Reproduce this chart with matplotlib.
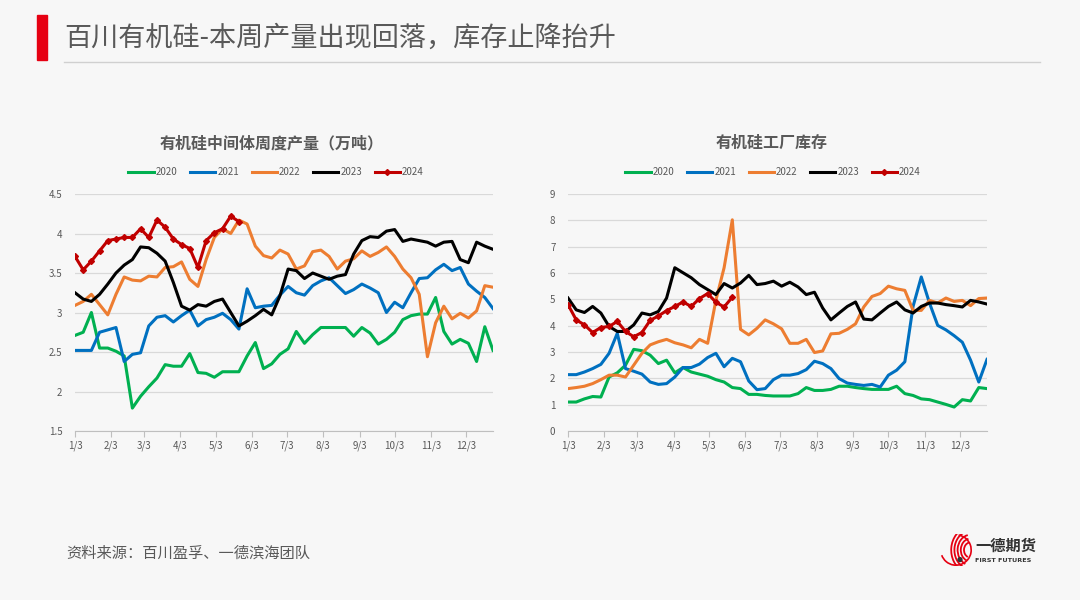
import matplotlib
matplotlib.use("Agg")
import matplotlib.pyplot as plt
from matplotlib.patches import Rectangle, Arc, Circle
import pandas as pd

plt.rcParams['font.family'] = ['Noto Sans CJK SC', 'DejaVu Sans']

years = ["2020", "2021", "2022", "2023", "2024"]
colors = ["#00b050", "#0070c0", "#ed7d31", "#000000", "#c00000"]

# weekly output, 10k t
prod_2020 = [2.71, 2.75, 3.00, 2.55, 2.55, 2.51, 2.45, 1.79, 1.94, 2.06,
             2.17, 2.34, 2.32, 2.32, 2.48, 2.24, 2.23, 2.18, 2.25, 2.25,
             2.25, 2.45, 2.62, 2.29, 2.35, 2.47, 2.54, 2.76, 2.61, 2.72,
             2.81, 2.81, 2.81, 2.81, 2.70, 2.81, 2.74, 2.60, 2.66, 2.75,
             2.91, 2.96, 2.98, 2.98, 3.19, 2.76, 2.60, 2.66, 2.61, 2.38,
             2.82, 2.52]
prod_2021 = [2.52, 2.52, 2.52, 2.75, 2.78, 2.81, 2.38, 2.47, 2.49, 2.83,
             2.94, 2.96, 2.88, 2.96, 3.03, 2.83, 2.91, 2.94, 2.99, 2.91,
             2.79, 3.30, 3.06, 3.08, 3.09, 3.22, 3.33, 3.25, 3.22, 3.34,
             3.40, 3.44, 3.34, 3.24, 3.29, 3.36, 3.31, 3.25, 3.00, 3.13,
             3.06, 3.25, 3.43, 3.44, 3.54, 3.61, 3.53, 3.57, 3.36, 3.27,
             3.19, 3.05]
prod_2022 = [3.09, 3.14, 3.23, 3.10, 2.97, 3.23, 3.45, 3.41, 3.40, 3.46,
             3.45, 3.57, 3.58, 3.64, 3.42, 3.33, 3.67, 3.95, 4.06, 4.00,
             4.17, 4.12, 3.84, 3.72, 3.69, 3.79, 3.74, 3.55, 3.59, 3.77,
             3.79, 3.71, 3.55, 3.65, 3.68, 3.78, 3.71, 3.76, 3.83, 3.71,
             3.55, 3.44, 3.23, 2.44, 2.87, 3.08, 2.92, 2.99, 2.93, 3.02,
             3.34, 3.32]
prod_2023 = [3.25, 3.17, 3.14, 3.23, 3.36, 3.50, 3.60, 3.67, 3.83, 3.82,
             3.75, 3.65, 3.38, 3.08, 3.03, 3.10, 3.08, 3.14, 3.17, 3.00,
             2.83, 2.89, 2.96, 3.04, 2.97, 3.21, 3.55, 3.53, 3.43, 3.50,
             3.46, 3.42, 3.46, 3.48, 3.74, 3.91, 3.96, 3.95, 4.03, 4.05,
             3.90, 3.93, 3.91, 3.89, 3.84, 3.89, 3.90, 3.67, 3.63, 3.89,
             3.84, 3.80]
prod_2024 = [3.71, 3.54, 3.65, 3.78, 3.91, 3.93, 3.95, 3.95, 4.06, 3.95,
             4.17, 4.08, 3.93, 3.86, 3.81, 3.57, 3.91, 4.01, 4.06, 4.22,
             4.15]

# factory inventory
inv_2020 = [1.10, 1.10, 1.22, 1.31, 1.29, 2.05, 2.21, 2.50, 3.10, 3.05,
            2.88, 2.56, 2.69, 2.21, 2.41, 2.24, 2.16, 2.08, 1.95, 1.86,
            1.65, 1.61, 1.39, 1.39, 1.35, 1.33, 1.33, 1.33, 1.42, 1.65,
            1.54, 1.54, 1.58, 1.70, 1.70, 1.65, 1.61, 1.58, 1.58, 1.58,
            1.70, 1.42, 1.35, 1.22, 1.19, 1.10, 1.01, 0.91, 1.19, 1.14,
            1.65, 1.61]
inv_2021 = [2.14, 2.14, 2.24, 2.37, 2.53, 2.95, 3.71, 2.37, 2.27, 2.16,
            1.86, 1.77, 1.80, 2.05, 2.41, 2.41, 2.54, 2.79, 2.95, 2.44,
            2.76, 2.63, 1.90, 1.57, 1.61, 1.95, 2.12, 2.12, 2.18, 2.33,
            2.65, 2.56, 2.37, 1.99, 1.82, 1.77, 1.73, 1.77, 1.67, 2.12,
            2.31, 2.63, 4.73, 5.85, 4.86, 4.01, 3.84, 3.62, 3.37, 2.69,
            1.86, 2.72]
inv_2022 = [1.61, 1.65, 1.70, 1.80, 1.95, 2.12, 2.12, 2.05, 2.50, 2.95,
            3.27, 3.39, 3.48, 3.35, 3.27, 3.16, 3.48, 3.33, 4.96, 6.20,
            8.02, 3.86, 3.65, 3.90, 4.22, 4.07, 3.88, 3.33, 3.33, 3.48,
            2.98, 3.04, 3.69, 3.71, 3.86, 4.07, 4.71, 5.11, 5.22, 5.50,
            5.40, 5.34, 4.58, 4.58, 4.96, 4.86, 5.05, 4.92, 4.96, 4.76,
            5.03, 5.05]
inv_2023 = [5.05, 4.60, 4.50, 4.73, 4.48, 3.97, 3.78, 3.78, 4.03, 4.48,
            4.41, 4.54, 5.05, 6.20, 6.01, 5.82, 5.56, 5.37, 5.18, 5.60,
            5.43, 5.62, 5.91, 5.56, 5.60, 5.69, 5.50, 5.65, 5.47, 5.18,
            5.27, 4.67, 4.22, 4.48, 4.73, 4.90, 4.25, 4.22, 4.48, 4.73,
            4.90, 4.60, 4.48, 4.73, 4.86, 4.86, 4.80, 4.76, 4.71, 4.96,
            4.90, 4.82]
inv_2024 = [4.80, 4.22, 4.03, 3.74, 3.93, 3.97, 4.16, 3.78, 3.58, 3.74,
            4.20, 4.37, 4.57, 4.73, 4.90, 4.73, 5.03, 5.22, 4.89, 4.71,
            5.08]

weeks = pd.date_range("2023-01-03", periods=52, freq="7D")
month_ticks = pd.date_range("2023-01-01", periods=12, freq="MS") + pd.Timedelta(days=2)
month_labels = [f"{d.month}/3" for d in month_ticks]

TXT = "#595959"
BG = "#f7f7f7"

fig = plt.figure(figsize=(10.8, 6), dpi=100, facecolor=BG)

# header
fig.patches.append(Rectangle((37 / 1080, 1 - 60 / 600), 10 / 1080, 45 / 600,
                             transform=fig.transFigure, color="#e60012"))
fig.text(64 / 1080, 1 - 38 / 600, "百川有机硅-本周产量出现回落，库存止降抬升",
         fontsize=19.5, color=TXT, va="center", ha="left")
fig.add_artist(plt.Line2D([64 / 1080, 1040 / 1080], [1 - 62 / 600, 1 - 62 / 600],
                          transform=fig.transFigure, color="#d0d0d0", lw=1))


def draw_panel(rect, series, title, ylim, yticks, ylabels, title_x, leg_x):
    ax = fig.add_axes(rect, facecolor=BG)
    for i, (name, vals) in enumerate(zip(years, series)):
        kw = {}
        if name == "2024":
            kw = dict(marker="D", markersize=3.0)
        ax.plot(weeks[:len(vals)], vals, color=colors[i], lw=2.2, label=name,
                solid_joinstyle="round", **kw)
    ax.set_xlim(weeks[0], weeks[-1])
    ax.set_ylim(*ylim)
    ax.set_yticks(yticks)
    ax.set_yticklabels(ylabels)
    ax.set_xticks(month_ticks)
    ax.set_xticklabels(month_labels)
    ax.grid(axis="y", color="#d9d9d9", lw=0.9)
    ax.set_axisbelow(True)
    for s in ["top", "right", "left"]:
        ax.spines[s].set_visible(False)
    ax.spines["bottom"].set_color("#bfbfbf")
    ax.tick_params(axis="y", length=0, labelsize=7, labelcolor=TXT, pad=9)
    ax.tick_params(axis="x", length=4, color="#bfbfbf", labelsize=7,
                   labelcolor=TXT, pad=3)
    fig.text(title_x / 1080, 1 - 143 / 600, title, fontsize=11.5, color=TXT,
             fontweight="bold", ha="center", va="center")
    fig.legend(*ax.get_legend_handles_labels(), loc="center",
               bbox_to_anchor=(leg_x / 1080, 1 - 172 / 600), ncol=5, frameon=False,
               fontsize=7, labelcolor=TXT, handlelength=2.6, handletextpad=0.2,
               columnspacing=1.3)
    return ax


draw_panel([75 / 1080, 1 - 431 / 600, 418 / 1080, 237 / 600],
           [prod_2020, prod_2021, prod_2022, prod_2023, prod_2024],
           "有机硅中间体周度产量（万吨）", (1.5, 4.5),
           [1.5, 2, 2.5, 3, 3.5, 4, 4.5], ["1.5", "2", "2.5", "3", "3.5", "4", "4.5"],
           272, 276)

draw_panel([568 / 1080, 1 - 431 / 600, 419 / 1080, 237 / 600],
           [inv_2020, inv_2021, inv_2022, inv_2023, inv_2024],
           "有机硅工厂库存", (0, 9),
           list(range(10)), [str(v) for v in range(10)],
           772, 773)

# source
fig.text(66 / 1080, 1 - 553 / 600, "资料来源：百川盈孚、一德滨海团队",
         fontsize=11, color=TXT, ha="left", va="center")

# logo
lax = fig.add_axes([940 / 1080, 1 - 566 / 600, 32 / 1080, 32 / 600])
lax.set_xlim(-1, 1)
lax.set_ylim(-1, 1)
lax.set_aspect("equal")
lax.axis("off")
lax.add_patch(Arc((0, 0), 1.9, 1.9, theta1=200, theta2=80, color="#e60012", lw=1.2))
for r in [0.5, 0.75, 1.0, 1.25, 1.5]:
    lax.add_patch(Arc((0.9, 0.0), r * 1.6, r * 1.9, theta1=100, theta2=250,
                      color="#e60012", lw=1.3))
lax.add_patch(Circle((0.25, -0.6), 0.12, color="#333333"))
fig.text(975 / 1080, 1 - 546 / 600, "一德期货", fontsize=11, fontweight="bold",
         color="#333333", ha="left", va="center")
fig.text(975 / 1080, 1 - 561 / 600, "FIRST FUTURES", fontsize=4.6, fontweight="bold",
         color="#333333", ha="left", va="center", family="DejaVu Sans")

fig.savefig("out.png", dpi=100, facecolor=BG)
